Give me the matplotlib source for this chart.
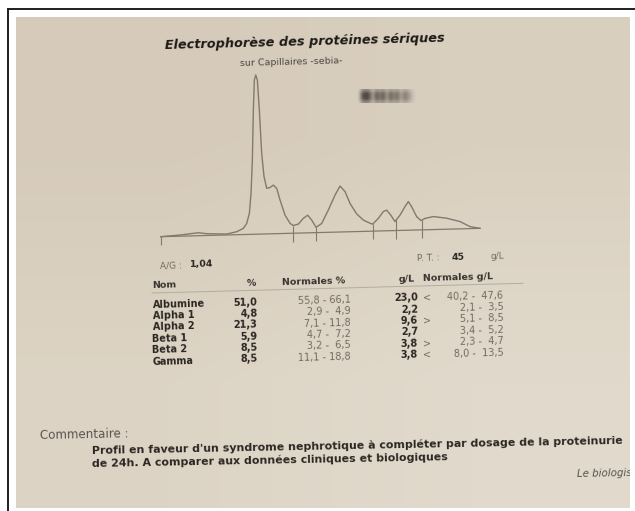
import numpy as np
import matplotlib
matplotlib.use("Agg")
import matplotlib.pyplot as plt
from matplotlib.transforms import Affine2D
from matplotlib.colors import LinearSegmentedColormap

# Electrophoresis trace (migration position, height above baseline)
migration = [0, 58, 113, 138, 198, 228, 248, 258, 266, 271, 275, 278, 281, 285, 290, 296,
             303, 310, 318, 328, 338, 348, 358, 373, 388, 398, 413, 428, 441, 453, 466, 483,
             503, 523, 538, 553, 568, 588, 608, 628, 636, 653, 668, 678, 690, 703, 718, 733,
             743, 753, 768, 781, 793, 818, 858, 898, 928, 958]
height = [0, 3.5, 9, 5.4, 2.8, 9, 18.5, 33, 63, 123, 223, 373, 463, 478, 462, 372,
          242, 172, 137, 139, 146, 136, 101, 55, 30, 23, 27, 44, 53, 38, 16, 27,
          67, 111, 138, 121, 85, 53, 34, 24, 21, 38, 58, 62, 47, 27, 46, 71,
          86, 70, 40, 28, 34, 39, 33, 22, 6, 0]
separators = [398, 466, 636, 706, 783]

# Result table
fractions = ["Albumine", "Alpha 1", "Alpha 2", "Beta 1", "Beta 2", "Gamma"]
percent = ["51,0", "4,8", "21,3", "5,9", "8,5", "8,5"]
normal_pct = ["55,8 - 66,1", "2,9 -  4,9", "7,1 - 11,8", "4,7 -  7,2", "3,2 -  6,5", "11,1 - 18,8"]
grams = ["23,0", "2,2", "9,6", "2,7", "3,8", "3,8"]
flags = ["<", "", ">", "", ">", "<"]
normal_gl = ["40,2 -  47,6", "2,1 -  3,5", "5,1 -  8,5", "3,4 -  5,2", "2,3 -  4,7", "8,0 -  13,5"]
ag_ratio = "1,04"
total_protein = "45"

comment_1 = "Profil en faveur d'un syndrome nephrotique à compléter par dosage de la proteinurie"
comment_2 = "de 24h. A comparer aux données cliniques et biologiques"

barcode = [1.0, 0.3, 0.18, 0.28, 0.8, 0.3, 0.55, 0.3, 0.75, 0.35, 0.6, 0.4, 0.8, 0.5, 0.65, 0.85, 1.0]

W, H = 635, 511
TILT = 1.5
PAPER = "#dcd3c4"
INK = "#2b2622"
GREY = "#746b64"

fig = plt.figure(figsize=(W / 100, H / 100), dpi=100)
fig.patch.set_facecolor("white")

# outer frame
bg = fig.add_axes([0, 0, 1, 1])
bg.set_xlim(0, W)
bg.set_ylim(H, 0)
bg.axis("off")
bg.plot([8, W], [9, 9], color="#1e1e1e", lw=1.4)
bg.plot([8, 8], [9, H], color="#1e1e1e", lw=1.4)

# the photographed sheet, pixel coordinates
page = fig.add_axes([16 / W, (H - 508) / H, (630 - 16) / W, (508 - 17) / H])
page.set_facecolor(PAPER)
for s in page.spines.values():
    s.set_visible(False)
page.set_xticks([])
page.set_yticks([])

# soft lighting of the photo
shade = LinearSegmentedColormap.from_list("paper", ["#d6cbba", "#e1dacc"])
page.imshow([[0.0, 0.3], [0.6, 1.0]], extent=(16, 630, 508, 17), cmap=shade,
            aspect="auto", interpolation="bilinear", zorder=0)


def put(x, y, s, ang=TILT, x0=152, **kw):
    yy = y - (x - x0) * np.tan(np.radians(ang))
    page.text(x, yy, s, rotation=ang, rotation_mode="anchor", va="baseline",
              clip_on=True, **kw)


put(305, 45, "Electrophorèse des protéines sériques", x0=305, ha="center",
    fontsize=9.3, fontweight="bold", fontstyle="italic", color="#1c1917")
put(291, 65, "sur Capillaires -sebia-", x0=291, ha="center", fontsize=6.8, color="#4d4843")

cmap = LinearSegmentedColormap.from_list("bc", ["#2a2420", "#d9cfc0"])
lv = np.array(barcode)
page.imshow(np.vstack([0.5 + lv / 2, lv, lv, lv, 0.5 + lv / 2]), extent=(357, 417, 103, 89),
            cmap=cmap, vmin=0, vmax=1, aspect="auto", interpolation="bicubic", zorder=1)

# A/G and total protein
put(160, 268.3, "A/G :", fontsize=6.5, color=GREY)
put(190, 268.3, ag_ratio, fontsize=6.8, fontweight="bold", color=INK)
put(417, 268.3, "P. T. :", fontsize=6.5, color=GREY)
put(452, 268.3, total_protein, fontsize=6.8, fontweight="bold", color=INK)
put(490, 268.3, "g/L", fontsize=6.5, color=GREY)

# header
hk = dict(fontsize=6.8, fontweight="bold", color="#3a3430")
put(152.5, 288.5, "Nom", **hk)
put(256, 288.5, "%", ha="right", **hk)
put(282, 288.5, "Normales %", **hk)
put(415, 288.5, "g/L", ha="right", **hk)
put(423, 288.5, "Normales g/L", **hk)
t = np.tan(np.radians(TILT))
page.plot([152, 523], [293, 293 - (523 - 152) * t], color="#b5aca2", lw=0.7)

for i, name in enumerate(fractions):
    y = 307.7 + 11.4 * i
    put(152.5, y, name, fontsize=7, fontweight="bold", color=INK)
    put(257.5, y, percent[i], ha="right", fontsize=7, fontweight="bold", color=INK)
    put(351, y, normal_pct[i], ha="right", fontsize=7, color=GREY)
    put(418, y, grams[i], ha="right", fontsize=7, fontweight="bold", color=INK)
    if flags[i]:
        put(423.5, y, flags[i], fontsize=7, color=GREY)
    put(503.5, y, normal_gl[i], ha="right", fontsize=7, color=GREY)

# comment block (the sheet runs past the photo's right edge)
put(40, 438.8, "Commentaire :", ang=1.1, x0=40, fontsize=8.6, color="#5a544e")
put(92, 453.8, comment_1, ang=1.1, x0=92, fontsize=7.95, fontweight="bold", color=INK)
put(92, 466.8, comment_2, ang=1.1, x0=92, fontsize=7.95, fontweight="bold", color=INK)
put(577, 477.5, "Le biologiste", ang=1.1, x0=577, fontsize=7.4, fontstyle="italic", color="#55504b")

page.set_xlim(16, 630)
page.set_ylim(508, 17)

# electrophoresis curve, sheared like the photographed sheet
x0px, y0px = 160.7, H - 236.7
cv = fig.add_axes([x0px / W, y0px / H, 319.3 / W, 159.3 / H])
cv.set_xlim(0, 958)
cv.set_ylim(0, 478)
cv.axis("off")
shear = Affine2D().translate(-x0px, -y0px).skew_deg(0, TILT).translate(x0px, y0px)
tr = cv.transData + shear
line_c = "#85786f"
cv.plot(migration, height, color=line_c, lw=1.0, transform=tr, clip_on=False)
cv.plot([0, 958], [0, 0], color=line_c, lw=0.9, transform=tr, clip_on=False)
tops = np.interp(separators, migration, height)
cv.vlines(separators, -25, tops, color=line_c, lw=0.8, transform=tr, clip_on=False)
cv.vlines([0], -25, 0, color=line_c, lw=0.8, transform=tr, clip_on=False)

fig.savefig("out.png", dpi=100)
